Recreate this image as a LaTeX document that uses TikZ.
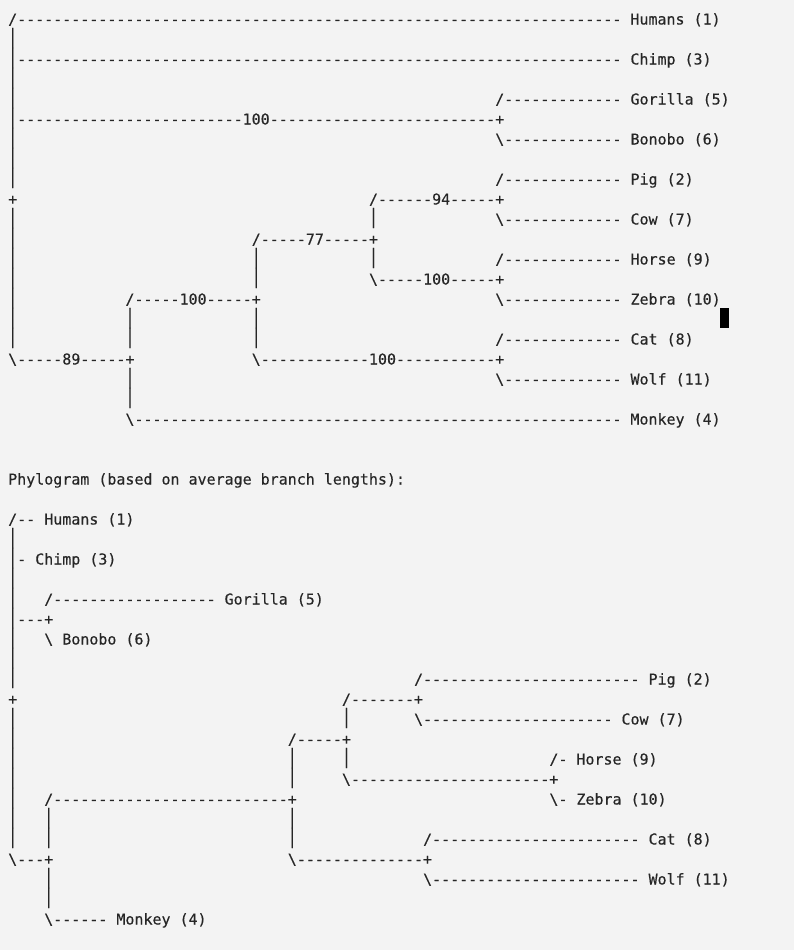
\documentclass[tikz,border=0pt]{standalone}
\usepackage{fontspec}
\usepackage{graphicx}
\newfontfamily\monofnt[Ligatures=TeXOff,WordSpace={1,0,0},FakeBold=0.35]{DejaVu Sans Mono}
\definecolor{textcol}{HTML}{262626}
\definecolor{bgcol}{HTML}{F3F3F3}
\ExplSyntaxOn
\cs_new:Npn \dsh #1 {\prg_replicate:nn{#1}{-}}
\ExplSyntaxOff
\newcommand\vb{\raisebox{1.2bp}{\scalebox{1}[1.34]{|}}}
\newcommand\bs{\textbackslash}
\frenchspacing
\tikzset{
  txt/.style={anchor=base west, inner sep=0pt, outer sep=0pt, text=textcol,
    font=\monofnt\fontsize{14.98bp}{20bp}\selectfont}
}
% \T{row}{col}{text}
\newcommand\T[3]{\node[txt] (r#1c#2) at ({8.2+9.02*#2},{24.5+20*#1}) {#3};}
\begin{document}
\begin{tikzpicture}[x=1bp,y=-1bp]
\fill[bgcol] (0,0) rectangle (794,950);
\useasboundingbox (0,0) rectangle (794,950);
% ---------- block 1 ----------
\T{0}{0}{/\dsh{67} Humans (1)}
\T{1}{0}{\vb}
\T{2}{0}{\vb\dsh{67} Chimp (3)}
\T{3}{0}{\vb}
\T{4}{0}{\vb}\T{4}{54}{/\dsh{13} Gorilla (5)}
\T{5}{0}{\vb\dsh{25}100\dsh{25}+}
\T{6}{0}{\vb}\T{6}{54}{\bs\dsh{13} Bonobo (6)}
\T{7}{0}{\vb}
\T{8}{0}{\vb}\T{8}{54}{/\dsh{13} Pig (2)}
\T{9}{0}{+}\T{9}{40}{/\dsh{6}94\dsh{5}+}
\T{10}{0}{\vb}\T{10}{40}{\vb}\T{10}{54}{\bs\dsh{13} Cow (7)}
\T{11}{0}{\vb}\T{11}{27}{/\dsh{5}77\dsh{5}+}
\T{12}{0}{\vb}\T{12}{27}{\vb}\T{12}{40}{\vb}\T{12}{54}{/\dsh{13} Horse (9)}
\T{13}{0}{\vb}\T{13}{27}{\vb}\T{13}{40}{\bs\dsh{5}100\dsh{5}+}
\T{14}{0}{\vb}\T{14}{13}{/\dsh{5}100\dsh{5}+}\T{14}{54}{\bs\dsh{13} Zebra (10)}
\T{15}{0}{\vb}\T{15}{13}{\vb}\T{15}{27}{\vb}
\T{16}{0}{\vb}\T{16}{13}{\vb}\T{16}{27}{\vb}\T{16}{54}{/\dsh{13} Cat (8)}
\T{17}{0}{\bs\dsh{5}89\dsh{5}+}\T{17}{27}{\bs\dsh{12}100\dsh{11}+}
\T{18}{13}{\vb}\T{18}{54}{\bs\dsh{13} Wolf (11)}
\T{19}{13}{\vb}
\T{20}{13}{\bs\dsh{54} Monkey (4)}
% cursor
\fill[black] (720,307.5) rectangle (729,327.5);
% ---------- caption ----------
\T{23}{0}{Phylogram (based on average branch lengths):}
% ---------- block 2 ----------
\T{25}{0}{/\dsh{2} Humans (1)}
\T{26}{0}{\vb}
\T{27}{0}{\vb- Chimp (3)}
\T{28}{0}{\vb}
\T{29}{0}{\vb}\T{29}{4}{/\dsh{18} Gorilla (5)}
\T{30}{0}{\vb\dsh{3}+}
\T{31}{0}{\vb}\T{31}{4}{\bs{} Bonobo (6)}
\T{32}{0}{\vb}
\T{33}{0}{\vb}\T{33}{45}{/\dsh{24} Pig (2)}
\T{34}{0}{+}\T{34}{37}{/\dsh{7}+}
\T{35}{0}{\vb}\T{35}{37}{\vb}\T{35}{45}{\bs\dsh{21} Cow (7)}
\T{36}{0}{\vb}\T{36}{31}{/\dsh{5}+}
\T{37}{0}{\vb}\T{37}{31}{\vb}\T{37}{37}{\vb}\T{37}{60}{/- Horse (9)}
\T{38}{0}{\vb}\T{38}{31}{\vb}\T{38}{37}{\bs\dsh{22}+}
\T{39}{0}{\vb}\T{39}{4}{/\dsh{26}+}\T{39}{60}{\bs- Zebra (10)}
\T{40}{0}{\vb}\T{40}{4}{\vb}\T{40}{31}{\vb}
\T{41}{0}{\vb}\T{41}{4}{\vb}\T{41}{31}{\vb}\T{41}{46}{/\dsh{23} Cat (8)}
\T{42}{0}{\bs\dsh{3}+}\T{42}{31}{\bs\dsh{14}+}
\T{43}{4}{\vb}\T{43}{46}{\bs\dsh{23} Wolf (11)}
\T{44}{4}{\vb}
\T{45}{4}{\bs\dsh{6} Monkey (4)}
\end{tikzpicture}
\end{document}
